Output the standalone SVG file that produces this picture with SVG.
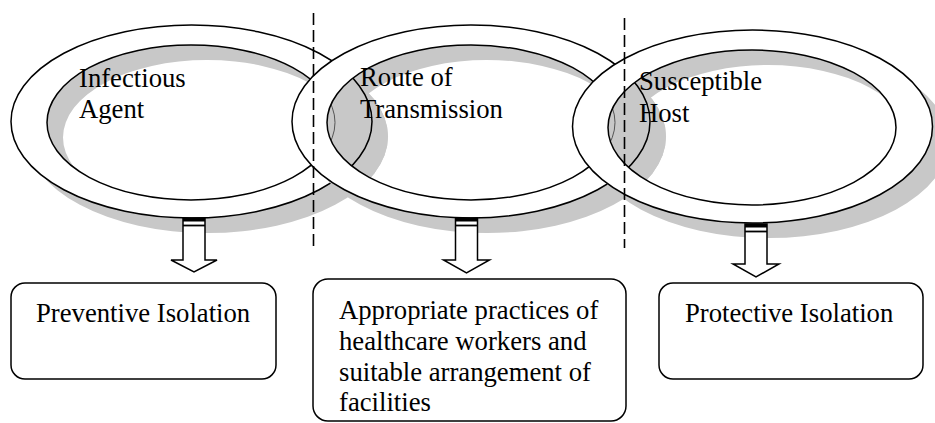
<svg xmlns="http://www.w3.org/2000/svg" xmlns:xlink="http://www.w3.org/1999/xlink" width="935" height="423" viewBox="0 0 935 423">
<style>
.shadow{fill:#c8c8c8;fill-rule:evenodd}
.ring{fill:#fff;fill-rule:evenodd;stroke:#000;stroke-width:1.5}
.lbl{font-family:"Liberation Serif","Times New Roman",serif;font-size:26.7px;fill:#000}
.box{fill:#fff;stroke:#000;stroke-width:1.5}
.arrow{fill:#fff;stroke:#000;stroke-width:1.5;stroke-linejoin:miter}
.dash{stroke:#000;stroke-width:1.6;stroke-dasharray:12,5;fill:none}
.grayfill{fill:#c8c8c8}
.behind-outer{fill:none;stroke:#000;stroke-width:1.5}
.behind-inner{fill:none;stroke:#555;stroke-width:1}
</style>
<defs>
<path id="r1" d="M11,121.5 a180.5,96.5 0 1,0 361,0 a180.5,96.5 0 1,0 -361,0 Z M47,122.5 a144,77.5 0 1,0 288,0 a144,77.5 0 1,0 -288,0 Z"/>
<path id="r2" d="M292,121.5 a179,96.5 0 1,0 358,0 a179,96.5 0 1,0 -358,0 Z M327,122.5 a144,77.5 0 1,0 288,0 a144,77.5 0 1,0 -288,0 Z"/>
<path id="r3" d="M572.5,126.5 a180,96.5 0 1,0 360,0 a180,96.5 0 1,0 -360,0 Z M608,127.5 a144,77.5 0 1,0 288,0 a144,77.5 0 1,0 -288,0 Z"/>
<clipPath id="h2"><ellipse cx="471" cy="122.5" rx="144" ry="77.5"/></clipPath>
<clipPath id="h3"><ellipse cx="752" cy="127.5" rx="144" ry="77.5"/></clipPath>
</defs>

<g id="ring-infectious-agent">
<use xlink:href="#r1" href="#r1" class="shadow" transform="translate(16,15)"/>
<use xlink:href="#r1" href="#r1" class="ring"/>
<text class="lbl" x="79" y="87">Infectious</text>
<text class="lbl" x="79" y="118">Agent</text>
</g>

<g id="ring-route-of-transmission">
<use xlink:href="#r2" href="#r2" class="shadow" transform="translate(16,15)"/>
<g clip-path="url(#h2)">
<ellipse class="grayfill" cx="191.5" cy="121.5" rx="180.5" ry="96.5"/>
<ellipse class="grayfill" cx="207.5" cy="136.5" rx="180.5" ry="96.5"/>
<ellipse class="behind-inner" cx="191" cy="122.5" rx="144" ry="77.5"/>
<ellipse class="behind-outer" cx="191.5" cy="121.5" rx="180.5" ry="96.5"/>
</g>
<use xlink:href="#r2" href="#r2" class="ring"/>
<text class="lbl" x="360" y="86">Route of</text>
<text class="lbl" x="360" y="118">Transmission</text>
</g>

<g id="ring-susceptible-host">
<use xlink:href="#r3" href="#r3" class="shadow" transform="translate(16,15)"/>
<g clip-path="url(#h3)">
<ellipse class="grayfill" cx="471" cy="121.5" rx="179" ry="96.5"/>
<ellipse class="grayfill" cx="487" cy="136.5" rx="179" ry="96.5"/>
<ellipse class="behind-inner" cx="471" cy="122.5" rx="144" ry="77.5"/>
<ellipse class="behind-outer" cx="471" cy="121.5" rx="179" ry="96.5"/>
</g>
<use xlink:href="#r3" href="#r3" class="ring"/>
<text class="lbl" x="639" y="90">Susceptible</text>
<text class="lbl" x="639" y="122">Host</text>
</g>

<g id="dividers">
<line class="dash" x1="313.5" y1="13" x2="313.5" y2="248"/>
<line class="dash" x1="624.5" y1="18" x2="624.5" y2="248"/>
</g>

<g id="connectors">
<g id="arrow-1">
<path class="arrow" d="M183,218 H205 V260 H217 L194,272 L171,260 H183 Z"/>
<rect x="183" y="218" width="22" height="3.5" fill="#000"/>
<line x1="183" y1="225.5" x2="205" y2="225.5" stroke="#000" stroke-width="1.8"/>
</g>
<g id="arrow-2">
<path class="arrow" d="M455.5,218 H477.5 V260 H489.5 L466.5,273 L443.5,260 H455.5 Z"/>
<rect x="455.5" y="218" width="22" height="3.5" fill="#000"/>
<line x1="455.5" y1="225.5" x2="477.5" y2="225.5" stroke="#000" stroke-width="1.8"/>
</g>
<g id="arrow-3">
<path class="arrow" d="M745,224 H767 V264 H779 L756,277 L733,264 H745 Z"/>
<rect x="745" y="224" width="22" height="3.5" fill="#000"/>
<line x1="745" y1="231.5" x2="767" y2="231.5" stroke="#000" stroke-width="1.8"/>
</g>
</g>

<g id="box-preventive-isolation">
<rect class="box" x="11" y="283" width="265" height="96" rx="14" ry="14"/>
<text class="lbl" x="36" y="322">Preventive Isolation</text>
</g>

<g id="box-appropriate-practices">
<rect class="box" x="313" y="279" width="313" height="142" rx="15" ry="15"/>
<text class="lbl" x="339" y="319">Appropriate practices of</text>
<text class="lbl" x="339" y="350">healthcare workers and</text>
<text class="lbl" x="339" y="381">suitable arrangement of</text>
<text class="lbl" x="339" y="411">facilities</text>
</g>

<g id="box-protective-isolation">
<rect class="box" x="659" y="283" width="264" height="96" rx="14" ry="14"/>
<text class="lbl" x="685" y="322">Protective Isolation</text>
</g>
</svg>
